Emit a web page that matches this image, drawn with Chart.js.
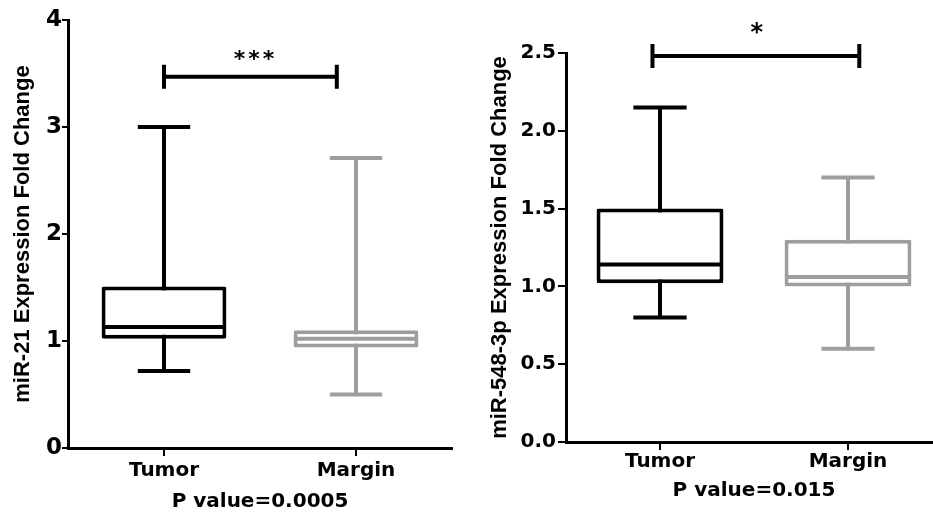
<!DOCTYPE html>
<html>
<head>
<meta charset="utf-8">
<script src="https://cdn.jsdelivr.net/npm/chart.js@4.4.1/dist/chart.umd.min.js"></script>
<style>
  html, body { margin: 0; padding: 0; background: #fff; overflow: hidden; }
  body { width: 933px; height: 515px; position: relative; }
  .panel { position: absolute; top: 0; height: 515px; }
  #left { left: 0; width: 470px; }
  #right { left: 470px; width: 490px; }
</style>
</head>
<body>
<div class="panel" id="left"><canvas id="chartLeft"></canvas></div>
<div class="panel" id="right"><canvas id="chartRight"></canvas></div>
<script>
const groups = ['Tumor', 'Margin'];
const boxColors = ['#000000', '#9e9e9e'];

// miR-21 panel
const mir21Min = [0.72, 0.50];
const mir21Q1 = [1.02, 0.94];
const mir21Median = [1.13, 1.02];
const mir21Q3 = [1.51, 1.10];
const mir21Max = [3.00, 2.71];
const mir21Ticks = ['0', '1', '2', '3', '4'];
const mir21Bracket = [0, 0.9, 3.47]; // from group, to group, value
const mir21Stars = '***';

// miR-548-3p panel
const mir548Min = [0.80, 0.60];
const mir548Q1 = [1.02, 1.00];
const mir548Median = [1.14, 1.06];
const mir548Q3 = [1.50, 1.30];
const mir548Max = [2.15, 1.70];
const mir548Ticks = ['0.0', '0.5', '1.0', '1.5', '2.0', '2.5'];
const mir548Bracket = [-0.04, 1.06, 2.48];
const mir548Stars = '*';

const BOLD = 'DejaVu Sans';

// whiskers, medians and the significance bracket, all through the chart scales
function makeBoxPlugin(cfg) {
    return {
        id: 'boxExtras',
        beforeDatasetsDraw(chart) {
            const ctx = chart.ctx;
            const y = chart.scales.y;
            const meta = chart.getDatasetMeta(0);
            ctx.save();
            ctx.lineWidth = 4;
            meta.data.forEach((bar, i) => {
                const half = bar.width * 0.21;
                const top = y.getPixelForValue(cfg.max[i]);
                const bottom = y.getPixelForValue(cfg.min[i]);
                ctx.strokeStyle = boxColors[i];
                ctx.beginPath();
                ctx.moveTo(bar.x, top);
                ctx.lineTo(bar.x, bottom);
                ctx.moveTo(bar.x - half, top);
                ctx.lineTo(bar.x + half, top);
                ctx.moveTo(bar.x - half, bottom);
                ctx.lineTo(bar.x + half, bottom);
                ctx.stroke();
            });
            ctx.restore();
        },
        afterDatasetsDraw(chart) {
            const ctx = chart.ctx;
            const x = chart.scales.x;
            const y = chart.scales.y;
            const meta = chart.getDatasetMeta(0);
            ctx.save();
            ctx.lineWidth = 4;
            meta.data.forEach((bar, i) => {
                const my = y.getPixelForValue(cfg.median[i]);
                ctx.strokeStyle = boxColors[i];
                ctx.beginPath();
                ctx.moveTo(bar.x - bar.width / 2 + 2, my);
                ctx.lineTo(bar.x + bar.width / 2 - 2, my);
                ctx.stroke();
            });

            // significance bracket
            const x1 = x.getPixelForValue(cfg.bracket[0]);
            const x2 = x.getPixelForValue(cfg.bracket[1]);
            const by = y.getPixelForValue(cfg.bracket[2]);
            ctx.strokeStyle = '#000';
            ctx.beginPath();
            ctx.moveTo(x1, by);
            ctx.lineTo(x2, by);
            ctx.moveTo(x1, by - 12);
            ctx.lineTo(x1, by + 12);
            ctx.moveTo(x2, by - 12);
            ctx.lineTo(x2, by + 12);
            ctx.stroke();

            ctx.fillStyle = '#000';
            ctx.font = 'bold ' + cfg.starSize + 'px "' + BOLD + '"';
            ctx.textAlign = 'center';
            ctx.textBaseline = 'middle';
            if ('letterSpacing' in ctx) ctx.letterSpacing = cfg.starSpacing;
            ctx.fillText(cfg.stars, (x1 + x2) / 2 + cfg.starShift, by - cfg.starGap);
            ctx.restore();
        }
    };
}

function buildChart(canvasId, cfg) {
    return new Chart(document.getElementById(canvasId), {
        type: 'bar',
        data: {
            labels: groups,
            datasets: [{
                data: cfg.q1.map((q, i) => [q, cfg.q3[i]]),
                backgroundColor: '#ffffff',
                borderColor: boxColors,
                borderWidth: 4,
                borderSkipped: false,
                borderRadius: 2,
                barPercentage: cfg.boxWidth,
                categoryPercentage: 1
            }]
        },
        options: {
            responsive: true,
            maintainAspectRatio: false,
            animation: false,
            layout: { padding: cfg.padding },
            plugins: {
                legend: { display: false },
                tooltip: { enabled: false }
            },
            scales: {
                x: {
                    offset: true,
                    grid: { offset: false, drawOnChartArea: false, color: '#000', lineWidth: 2, tickLength: 8 },
                    border: { color: '#000', width: 3 },
                    ticks: { color: '#000', padding: cfg.xTickPad, font: { family: BOLD, weight: 'bold', size: 20 } },
                    title: {
                        display: true,
                        text: cfg.pValue,
                        color: '#000',
                        font: { family: BOLD, weight: 'bold', size: 20 },
                        padding: { top: 0, bottom: cfg.pPad }
                    },
                    afterFit: s => { s.height = cfg.xHeight; }
                },
                y: {
                    min: 0,
                    max: cfg.yMax,
                    grid: { drawOnChartArea: false, color: '#000', lineWidth: 2, tickLength: cfg.yTickLength },
                    border: { color: '#000', width: 3 },
                    ticks: {
                        stepSize: cfg.yStep,
                        color: '#000',
                        padding: cfg.yTickPad,
                        font: { family: BOLD, weight: 'bold', size: cfg.yTickSize },
                        callback: (v, i) => cfg.ticks[i]
                    },
                    title: {
                        display: true,
                        text: cfg.yTitle,
                        color: '#000',
                        font: { family: 'Liberation Sans', weight: 'bold', size: 22 },
                        padding: { top: cfg.yTitlePad, bottom: 0 }
                    },
                    afterFit: s => { s.width = cfg.yWidth; }
                }
            }
        },
        plugins: [makeBoxPlugin(cfg)]
    });
}

buildChart('chartLeft', {
    min: mir21Min, q1: mir21Q1, median: mir21Median, q3: mir21Q3, max: mir21Max,
    ticks: mir21Ticks, bracket: mir21Bracket, stars: mir21Stars,
    yMax: 4, yStep: 1,
    yTitle: 'miR-21 Expression Fold Change',
    pValue: 'P value=0.0005',
    padding: { top: 20, right: 18, bottom: 0, left: 0 },
    yWidth: 68, xHeight: 67,
    yTickLength: 6, yTickPad: 0, yTickSize: 23, yTitlePad: 10,
    xTickPad: 3, pPad: 1,
    boxWidth: 0.65,
    starSize: 22, starSpacing: '3px', starGap: 16, starShift: 5
});

buildChart('chartRight', {
    min: mir548Min, q1: mir548Q1, median: mir548Median, q3: mir548Q3, max: mir548Max,
    ticks: mir548Ticks, bracket: mir548Bracket, stars: mir548Stars,
    yMax: 2.5, yStep: 0.5,
    yTitle: 'miR-548-3p Expression Fold Change',
    pValue: 'P value=0.015',
    padding: { top: 53, right: 18, bottom: 0, left: 0 },
    yWidth: 96, xHeight: 73,
    yTickLength: 8, yTickPad: 2, yTickSize: 20, yTitlePad: 17,
    xTickPad: 0, pPad: 12,
    boxWidth: 0.675,
    starSize: 24, starSpacing: '0px', starGap: 22, starShift: 1
});
</script>
</body>
</html>
